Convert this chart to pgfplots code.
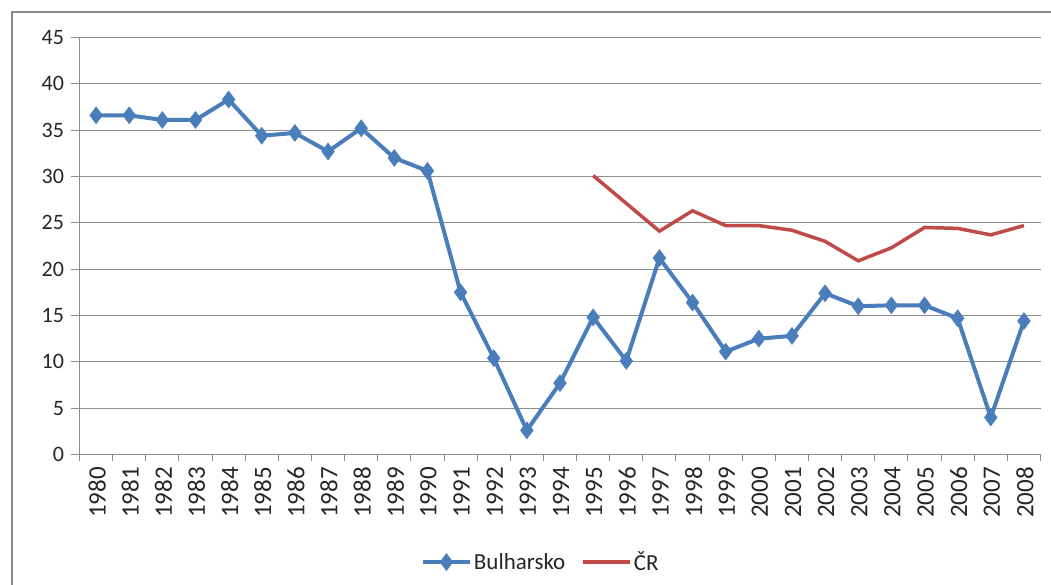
\documentclass[border=0pt]{standalone}
\usepackage{pgfplots}
\pgfplotsset{compat=1.18}
\usepackage{fontspec}
\setmainfont{Carlito}
\definecolor{blu}{RGB}{74,126,187}
\definecolor{rd}{RGB}{190,75,72}
\definecolor{gr}{RGB}{140,140,140}
\begin{document}
\begin{tikzpicture}
\useasboundingbox (0pt,0pt) rectangle (1051pt,585pt);
\begin{axis}[
  at={(79.5pt,130.5pt)}, anchor=south west,
  width=961pt, height=417pt, scale only axis,
  xmin=-0.5, xmax=28.5, ymin=0, ymax=45,
  axis x line*=bottom, axis y line*=left,
  axis line style={gr, line width=1pt, -},
  ytick={0,5,...,45},
  xtick={0,...,28},
  xticklabels={1980,1981,1982,1983,1984,1985,1986,1987,1988,1989,1990,1991,1992,1993,1994,1995,1996,1997,1998,1999,2000,2001,2002,2003,2004,2005,2006,2007,2008},
  major x tick style={draw=none},
  minor xtick={-0.5,0.5,...,28.5},
  minor tick length=7pt,
  minor x tick style={gr, line width=1pt},
  major tick length=9pt,
  major y tick style={gr, line width=1pt},
  tick align=outside,
  ymajorgrids, grid style={gr, line width=1pt},
  /pgf/number format/assume math mode=true,
  yticklabel style={font=\fontsize{22}{26}\selectfont, text=black!85, xshift=-3pt},
  xticklabel style={font=\fontsize{25}{29}\selectfont, text=black!85, rotate=90, anchor=east, yshift=-1pt},
  legend style={at={(0.48,-0.258)}, anchor=center, draw=none, legend columns=2,
    font=\fontsize{23}{27}\selectfont, text=black!85,
    /tikz/every even column/.append style={column sep=14pt}},
  legend image code/.code={\draw[#1, mark repeat=2, mark phase=2] plot coordinates {(0pt,0pt) (23.5pt,0pt) (47pt,0pt)};},
]
\addplot[blu, line width=4pt, mark=diamond*, mark size=8.5pt, mark options={solid, fill=blu, draw=blu, line width=0.5pt}] coordinates {
(0,36.6) (1,36.6) (2,36.1) (3,36.1) (4,38.3) (5,34.4) (6,34.7) (7,32.7) (8,35.2) (9,32.0)
(10,30.6) (11,17.5) (12,10.4) (13,2.6) (14,7.7) (15,14.8) (16,10.1) (17,21.2) (18,16.4) (19,11.1)
(20,12.5) (21,12.8) (22,17.4) (23,16.0) (24,16.1) (25,16.1) (26,14.7) (27,4.0) (28,14.4)};
\addlegendentry{Bulharsko}
\addplot[rd, line width=3.5pt, no marks] coordinates {
(15,30.1) (16,27.1) (17,24.1) (18,26.3) (19,24.7) (20,24.7) (21,24.2) (22,23.0) (23,20.9)
(24,22.3) (25,24.5) (26,24.4) (27,23.7) (28,24.7)};
\addlegendentry{ČR}
\end{axis}
\draw[gr, line width=1.5pt] (12pt,0pt) -- (12pt,573pt) -- (1051pt,573pt);
\end{tikzpicture}
\end{document}
